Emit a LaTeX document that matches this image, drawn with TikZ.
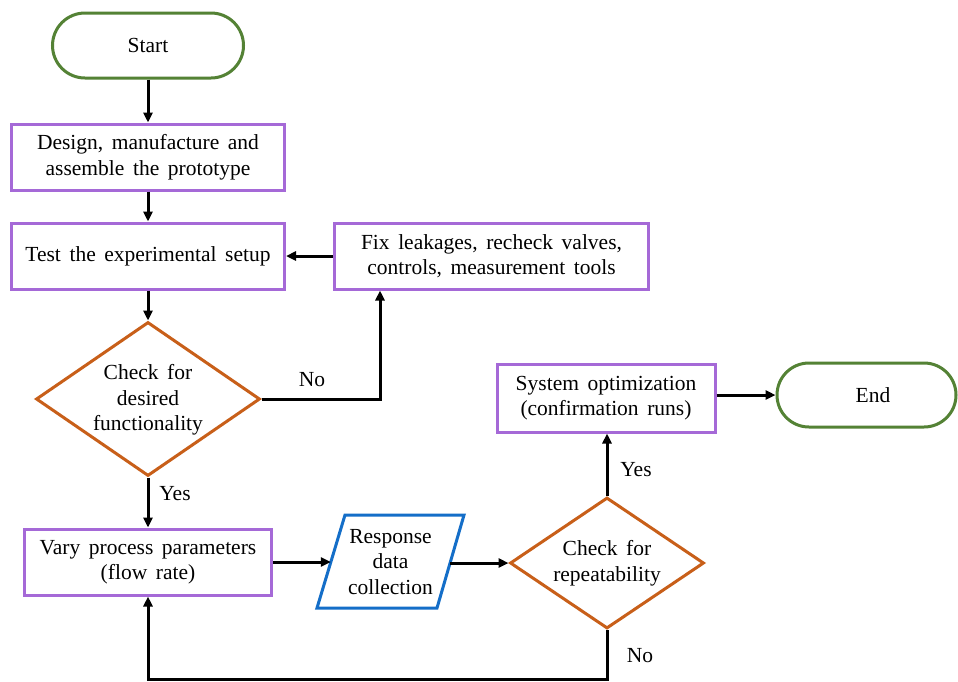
\documentclass[tikz,border=0pt]{standalone}
\usepackage{fontspec}
\setmainfont{Liberation Serif}
\newfontfamily\serf{Liberation Serif}
\usetikzlibrary{shapes.geometric,shapes.misc,arrows.meta}
\definecolor{termc}{RGB}{84,130,53}
\definecolor{procc}{RGB}{165,105,215}
\definecolor{decc}{RGB}{200,95,25}
\definecolor{datac}{RGB}{20,110,200}
\newcommand\myfnt{\serf\fontsize{21.5}{25.5}\selectfont\spaceskip=0.4em plus 0.1em\relax}
\tikzset{
  txt/.style={font=\myfnt, align=center},
  term/.style={txt, draw=termc, rounded rectangle, line width=3pt, inner sep=0pt},
  proc/.style={txt, draw=procc, rectangle, line width=3pt, inner sep=0pt},
  dec/.style={draw=decc, diamond, line width=3pt, inner sep=0pt},
  lab/.style={font=\myfnt, inner sep=0pt},
  arr/.style={-{Triangle[length=10pt,width=9pt]}, line width=3pt, black}
}
\begin{document}
\begin{tikzpicture}[x=1pt,y=-1pt]
\useasboundingbox (0,0) rectangle (958,681);
\fill[white] (0,0) rectangle (958,681);
% nodes
\node[term, minimum width=191pt, minimum height=65pt] (start) at (148,45.5) {Start};
\node[proc, minimum width=273pt, minimum height=66pt] (design) at (148,157) {Design, manufacture and\\assemble the prototype};
\node[proc, minimum width=273pt, minimum height=66pt] (test) at (148,256) {Test the experimental setup};
\node[proc, minimum width=314pt, minimum height=66pt] (fix) at (491.5,256) {Fix leakages, recheck valves,\\controls, measurement tools};
\node[dec, minimum width=224pt, minimum height=154pt] (d1) at (148,399) {};
\node[txt] (d1t) at (148,400) {Check for\\desired\\functionality};
\node[proc, minimum width=247pt, minimum height=66pt] (vary) at (148,562) {Vary process parameters\\(flow rate)};
% parallelogram
\draw[draw=datac, line width=3pt, fill=white] (317,608) -- (345,515) -- (464,515) -- (437,608) -- cycle;
\node[txt, minimum width=119pt, minimum height=93pt, inner sep=0pt] (para) at (390.5,562) {Response\\data\\collection};
\node[dec, minimum width=194pt, minimum height=131pt] (d2) at (607,563) {};
\node[txt] (d2t) at (607,563) {Check for\\repeatability};
\node[proc, minimum width=218pt, minimum height=68pt] (sys) at (606,398) {System optimization\\(confirmation runs)};
\node[term, minimum width=179pt, minimum height=64pt, text width=150pt, align=center] (end) at (866.5,395) {\hspace*{13pt}End};
\coordinate (bot) at (0,679);
\coordinate (nox) at (380,0);
% connectors
\draw[arr] (start.south) -- (design.north);
\draw[arr] (design.south) -- (test.north);
\draw[arr] (test.south) -- (d1.north);
\draw[arr] (fix.west) -- (test.east);
\draw[arr] (d1.east) -- (d1.east -| nox) -- (fix.south -| nox);
\node[lab] (no1) at (312,380) {No};
\draw[arr] (d1.south) -- (vary.north);
\node[lab] (yes1) at (175,494) {Yes};
\draw[arr] (vary.east) -- (vary.east -| para.west);
\draw[arr] (para.east |- d2.west) -- (d2.west);
\draw[arr] (d2.north) -- (d2.north |- sys.south);
\node[lab] (yes2) at (636,470) {Yes};
\draw[arr] (end.west -| sys.east) -- (end.west);
\draw[arr] (d2.south) -- (d2.south |- bot) -- (vary.south |- bot) -- (vary.south);
\node[lab] (no2) at (640,656) {No};
\end{tikzpicture}
\end{document}
